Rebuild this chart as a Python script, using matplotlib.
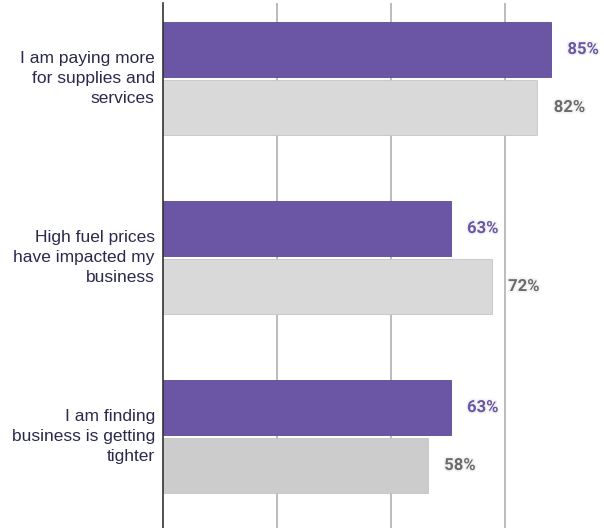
import matplotlib
matplotlib.use("Agg")
import matplotlib.pyplot as plt
import matplotlib.patheffects as pe
import numpy as np

categories = ["I am paying more\nfor supplies and\nservices",
              "High fuel prices\nhave impacted my\nbusiness",
              "I am finding\nbusiness is getting\ntighter"]
current = [85, 63, 63]
previous = [82, 72, 58]
prev_colors = ["#d9d9d9", "#d9d9d9", "#cccccc"]

purple = "#6a56a5"
bar_h = 0.307
gap = 0.0084

fig = plt.figure(figsize=(6.04, 5.28), dpi=100)
ax = fig.add_axes([163/604, 0, 1 - 163/604, 525/528])

y = np.arange(len(categories))
ax.barh(y - bar_h/2 - gap, current, height=bar_h, color=purple,
        edgecolor="#5c4a94", linewidth=0.6, zorder=3)
ax.barh(y + bar_h/2 + gap, previous, height=bar_h, color=prev_colors,
        edgecolor="#c4c4c4", linewidth=0.6, zorder=3)

halo = [pe.withStroke(linewidth=2.5, foreground="#f3f3f3")]
for i in range(len(categories)):
    ax.text(current[i] + 3.6, y[i] - bar_h/2 - gap, f"{current[i]}%",
            va="center", ha="left", color=purple, fontsize=12,
            fontweight="bold", family="Roboto", path_effects=halo)
    ax.text(previous[i] + 3.6, y[i] + bar_h/2 + gap, f"{previous[i]}%",
            va="center", ha="left", color="#6b6b6b", fontsize=12,
            fontweight="bold", family="Roboto", path_effects=halo)
    ax.text(-1.8, y[i], categories[i], ha="right", va="center",
            color="#2b2a4c", fontsize=12.5, family="Liberation Sans",
            linespacing=1.42)

ax.set_xlim(0, (604 - 163) / 4.565)
ax.set_ylim(2.511, -0.4218)
ax.set_xticks([25, 50, 75])
ax.xaxis.grid(True, color="#b0b0b0", linewidth=1.2, zorder=0)
ax.tick_params(length=0, labelbottom=False, labelleft=False)
ax.set_yticks([])
for s in ["top", "right", "bottom"]:
    ax.spines[s].set_visible(False)
ax.spines["left"].set_color("#333333")
ax.spines["left"].set_linewidth(1.2)
ax.spines["left"].set_zorder(4)

fig.savefig("out.png", dpi=100)
